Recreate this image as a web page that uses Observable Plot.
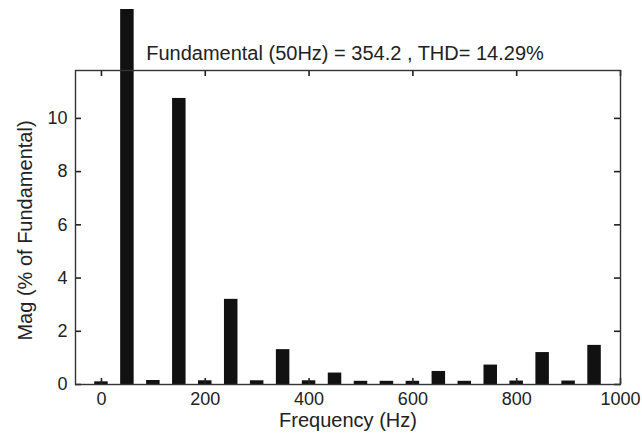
<!DOCTYPE html>
<html><head><meta charset="utf-8">
<script src="https://cdn.jsdelivr.net/npm/d3@7"></script>
<script src="https://cdn.jsdelivr.net/npm/@observablehq/plot@0.6"></script>
<style>
body{margin:0;background:#fff;}
#wrap{position:absolute;left:0;top:9px;width:642px;height:436px;overflow:hidden;}
</style></head><body><div id="wrap"></div>
<script>
const freqs = [0, 50, 100, 150, 200, 250, 300, 350, 400, 450, 500, 550, 600, 650, 700, 750, 800, 850, 900, 950];
const mags = [0.1, 100, 0.15, 10.75, 0.14, 3.2, 0.14, 1.31, 0.14, 0.43, 0.12, 0.12, 0.12, 0.49, 0.12, 0.73, 0.13, 1.2, 0.13, 1.47];
const xTicks = [0, 200, 400, 600, 800, 1000];
const yTicks = [0, 2, 4, 6, 8, 10];
const titleText = "Fundamental (50Hz) = 354.2 , THD= 14.29%";
const xLabel = "Frequency (Hz)";
const yLabel = "Mag (% of Fundamental)";

const data = freqs.map((f, i) => ({f, v: mags[i]}));
const halfWidth = 13;
const W = 642, H = 436, mL = 75, mR = 22, mT = 61, mB = 61;
const tickLen = 6;
const innerW = W - mL - mR, innerH = H - mT - mB;
const font = "'Liberation Sans', Arial, Helvetica, sans-serif";
const plain = d => String(d);
const tickStyle = {stroke: "#222", strokeWidth: 1.6};

const chart = Plot.plot({
  width: W, height: H,
  marginLeft: mL, marginRight: mR, marginTop: mT, marginBottom: mB,
  style: {fontFamily: font, fontSize: "18px", color: "#222", background: "#fff", overflow: "hidden"},
  x: {domain: [-50, 1000]},
  y: {domain: [0, 11.8]},
  marks: [
    Plot.rectY(data, {x1: d => d.f - halfWidth, x2: d => d.f + halfWidth, y1: 0, y2: "v", fill: "#111"}),
    // inward ticks on all four sides
    Plot.ruleX(xTicks, {x: d => d, insetTop: innerH - tickLen, ...tickStyle}),
    Plot.ruleX(xTicks, {x: d => d, insetBottom: innerH - tickLen, ...tickStyle}),
    Plot.ruleY(yTicks, {y: d => d, insetRight: innerW - tickLen, ...tickStyle}),
    Plot.ruleY(yTicks, {y: d => d, insetLeft: innerW - tickLen, ...tickStyle}),
    Plot.frame({stroke: "#333", strokeWidth: 1.4}),
    // tick labels
    Plot.axisX(xTicks, {anchor: "bottom", tickSize: 0, tickPadding: 8, tickFormat: plain, label: null, fontSize: 18, fill: "#222"}),
    Plot.axisY(yTicks, {anchor: "left", tickSize: 0, tickPadding: 8, tickFormat: plain, label: null, fontSize: 18, fill: "#222"}),
    // texts
    Plot.text([titleText], {frameAnchor: "top", dy: -25, dx: -3, fontSize: 20, fill: "#222"}),
    Plot.text([xLabel], {frameAnchor: "bottom", dy: 42, fontSize: 20, fill: "#222"}),
    Plot.text([yLabel], {frameAnchor: "left", textAnchor: "middle", dx: -50, dy: 3, rotate: -90, fontSize: 20, fill: "#222"})
  ]
});
document.getElementById("wrap").appendChild(chart);
</script>
</body></html>
